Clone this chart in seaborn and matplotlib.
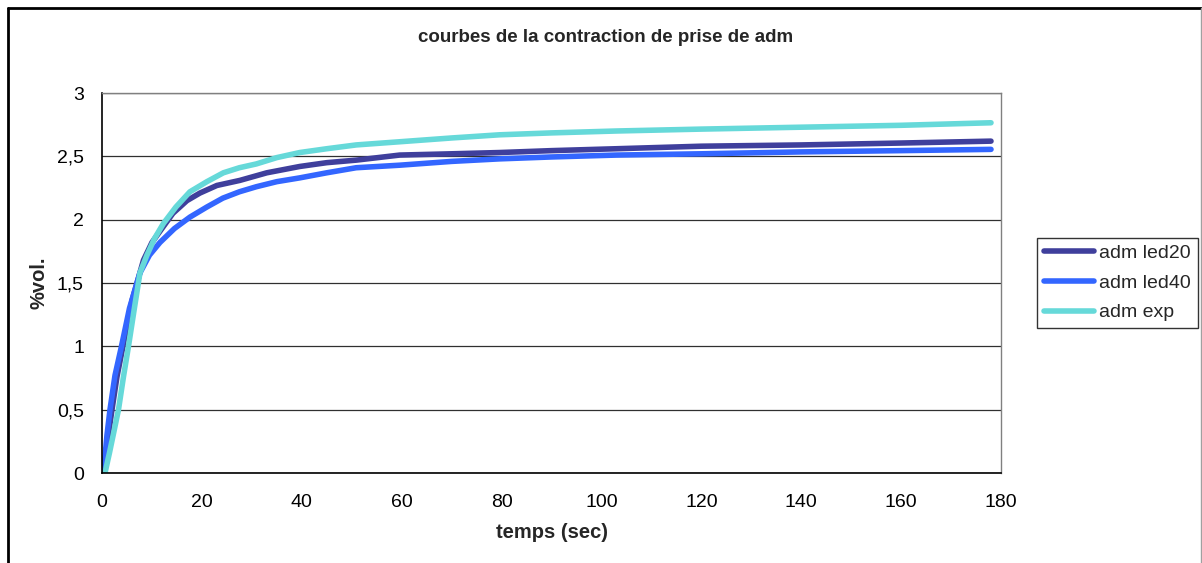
import numpy as np
import pandas as pd
import matplotlib
matplotlib.use('Agg')
import matplotlib.pyplot as plt
import matplotlib.ticker as ticker
from matplotlib.lines import Line2D
import seaborn as sns

# values (time in s, %vol.)
t_led20 = [0.3, 1.0, 2.0, 3.0, 4.2, 6.0, 8.3, 10.0, 12.0, 14.2, 17.0, 19.6, 23.0, 27.6,
           33.0, 39.6, 45.0, 50.9, 59.6, 70.0, 79.6, 90.0, 103.0, 120.0, 140.0, 160.0, 178.0]
v_led20 = [0.0, 0.22, 0.5, 0.76, 1.0, 1.36, 1.68, 1.82, 1.93, 2.05, 2.15, 2.21, 2.27, 2.31,
           2.37, 2.42, 2.45, 2.47, 2.51, 2.52, 2.53, 2.545, 2.56, 2.58, 2.59, 2.605, 2.62]

t_led40 = [0.3, 1.0, 1.6, 2.6, 3.9, 5.5, 7.6, 9.5, 11.6, 14.5, 17.6, 21.0, 24.2, 27.5,
           30.9, 35.0, 39.6, 45.0, 50.9, 59.6, 70.0, 79.6, 90.0, 103.0, 120.0, 140.0, 160.0, 178.0]
v_led40 = [0.0, 0.3, 0.5, 0.77, 1.0, 1.3, 1.58, 1.72, 1.82, 1.93, 2.02, 2.1, 2.17, 2.22,
           2.26, 2.3, 2.33, 2.37, 2.41, 2.43, 2.46, 2.48, 2.495, 2.51, 2.52, 2.535, 2.545, 2.555]

t_exp = [0.6, 1.5, 2.4, 3.3, 4.3, 5.3, 6.4, 7.6, 9.0, 10.5, 12.3, 14.8, 17.6, 21.0, 24.3,
         27.5, 30.9, 35.0, 39.6, 45.0, 50.9, 59.6, 70.0, 79.6, 90.0, 103.0, 120.0, 140.0, 160.0, 178.0]
v_exp = [0.0, 0.16, 0.33, 0.5, 0.76, 1.0, 1.28, 1.58, 1.72, 1.85, 1.97, 2.1, 2.22, 2.3, 2.37,
         2.41, 2.44, 2.49, 2.53, 2.56, 2.59, 2.615, 2.645, 2.67, 2.685, 2.70, 2.715, 2.73, 2.745, 2.765]

series = ['adm led20', 'adm led40', 'adm exp']
colors = ['#3f3f9c', '#3366ff', '#66d9d9']

df = pd.concat([
    pd.DataFrame({'t': t_led20, 'v': v_led20, 'serie': series[0]}),
    pd.DataFrame({'t': t_led40, 'v': v_led40, 'serie': series[1]}),
    pd.DataFrame({'t': t_exp, 'v': v_exp, 'serie': series[2]}),
])

sns.set_style('white')
plt.rcParams['font.family'] = ['Liberation Sans', 'DejaVu Sans']

fig = plt.figure(figsize=(12.02, 5.63), dpi=100)
ax = fig.add_axes([102 / 1202, 90 / 563, 899 / 1202, 380 / 563])

sns.lineplot(data=df, x='t', y='v', hue='serie', hue_order=series,
             palette=colors, linewidth=4, sort=False, estimator=None, ax=ax)

ax.set_xlim(0, 180)
ax.set_ylim(0, 3)
ax.set_xticks(np.arange(0, 181, 20))
ax.set_yticks(np.arange(0, 3.01, 0.5))
ax.yaxis.set_major_formatter(ticker.FuncFormatter(lambda v, p: f'{v:g}'.replace('.', ',')))
ax.tick_params(axis='both', direction='out', length=5, width=1, colors='black',
               labelsize=14, pad=8)
ax.tick_params(axis='x', pad=10)
ax.grid(axis='y', color='#303030', linewidth=0.9)
ax.set_axisbelow(True)

for side in ['left', 'bottom']:
    ax.spines[side].set_color('black')
    ax.spines[side].set_linewidth(1.2)
for side in ['top', 'right']:
    ax.spines[side].set_color('#808080')
    ax.spines[side].set_linewidth(1.0)

ax.set_xlabel('temps (sec)', fontsize=14.5, fontweight='bold', labelpad=9)
ax.set_ylabel('%vol.', fontsize=14.5, fontweight='bold', labelpad=6)
fig.text(606 / 1202, 1 - 37 / 563, 'courbes de la contraction de prise de adm',
         ha='center', va='center', fontsize=13.5, fontweight='bold')

handles = [Line2D([0], [0], color=c, linewidth=4) for c in colors]
ax.get_legend().remove()
leg = fig.legend(handles, series, loc='center left',
                 bbox_to_anchor=(1037 / 1202, 1 - 283 / 563),
                 fontsize=14, frameon=True, fancybox=False, handlelength=2.6,
                 labelspacing=0.62, borderpad=0.35, handletextpad=0.25, borderaxespad=0)
leg.get_frame().set_edgecolor('black')
leg.get_frame().set_linewidth(1.0)

# chart area frame
fig.add_artist(Line2D([8 / 1202, 1201 / 1202], [1 - 8 / 563, 1 - 8 / 563],
                      color='black', linewidth=2, transform=fig.transFigure))
fig.add_artist(Line2D([8 / 1202, 8 / 1202], [0, 1 - 8 / 563],
                      color='black', linewidth=2, transform=fig.transFigure))
fig.add_artist(Line2D([1200.5 / 1202, 1200.5 / 1202], [0, 1 - 8 / 563],
                      color='#a0a0a0', linewidth=1, transform=fig.transFigure))

plt.savefig('out.png', dpi=100)
plt.close()
